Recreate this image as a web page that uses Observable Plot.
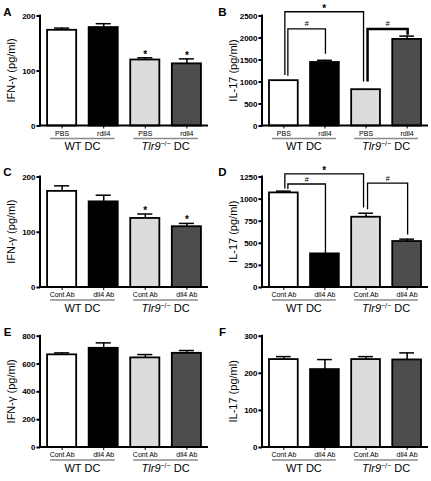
<!DOCTYPE html>
<html><head><meta charset="utf-8">
<script src="https://cdn.jsdelivr.net/npm/d3@7"></script>
<script src="https://cdn.jsdelivr.net/npm/@observablehq/plot@0.6"></script>
<style>
body{margin:0;background:#fff;}
#chart{position:relative;width:431px;height:481px;background:#fff;overflow:hidden;}
#chart > div{position:absolute;}
</style></head><body><div id="chart"></div>
<script>
// ---------- data ----------
const genotypes = ["WT", "Tlr9"];
const genotypeSup = ["", "−/−"];
const groupSuffix = " DC";
const treatmentsAB = ["PBS", "rdll4"];
const treatmentsCF = ["Cont Ab", "dll4 Ab"];

const meanA = [174, 179, 120, 113];
const errA  = [4, 7, 4, 9];
const starA = [0, 0, 1, 1];
const meanB = [1030, 1443, 825, 1968];
const errB  = [0, 50, 0, 75];
const meanC = [174, 155, 125, 110];
const errC  = [10, 12, 8, 6];
const starC = [0, 0, 1, 1];
const meanD = [1070, 380, 795, 520];
const errD  = [20, 0, 45, 27];
const meanE = [666, 713, 644, 677];
const errE  = [14, 39, 24, 20];
const meanF = [237, 210, 237, 236];
const errF  = [8, 27, 8, 19];

const ticksA = [0, 100, 200];
const ticksB = [0, 500, 1000, 1500, 2000, 2500];
const ticksC = [0, 100, 200];
const ticksD = [0, 250, 500, 750, 1000, 1250];
const ticksE = [0, 200, 400, 600, 800];
const ticksF = [0, 100, 200, 300];

const ylabelIFN = "IFN-γ (pg/ml)";
const ylabelIL = "IL-17 (pg/ml)";

// significance brackets (values in data units)
const bracketsB = [
  {from: 0, to: 2, top: 2585, fromEnd: 1150, toEnd: 1000, label: "*"},
  {from: 0, to: 1, top: 2195, fromEnd: 1130, toEnd: 1630, label: "#"},
  {from: 2, to: 3, top: 2195, fromEnd: 1000, toEnd: 2065, label: "#"}
];
const bracketsD = [
  {from: 0, to: 2, top: 1280, fromEnd: 1115, toEnd: 900, label: "*"},
  {from: 0, to: 1, top: 1165, fromEnd: 1110, toEnd: 385, label: "#"},
  {from: 2, to: 3, top: 1175, fromEnd: 880, toEnd: 595, label: "#"}
];

// ---------- styling ----------
const FONT = "'Liberation Sans', Arial, Helvetica, sans-serif";
const fills = ["#ffffff", "#000000", "#dcdcdc", "#4d4d4d"];
const thickBracket = {B: 2};

const panels = [
  {letter: "A", col: 0, row: 0, ylabel: ylabelIFN, treatments: treatmentsAB, mean: meanA, err: errA, stars: starA, ticks: ticksA, brackets: []},
  {letter: "B", col: 1, row: 0, ylabel: ylabelIL, treatments: treatmentsAB, mean: meanB, err: errB, stars: null, ticks: ticksB, brackets: bracketsB},
  {letter: "C", col: 0, row: 1, ylabel: ylabelIFN, treatments: treatmentsCF, mean: meanC, err: errC, stars: starC, ticks: ticksC, brackets: []},
  {letter: "D", col: 1, row: 1, ylabel: ylabelIL, treatments: treatmentsCF, mean: meanD, err: errD, stars: null, ticks: ticksD, brackets: bracketsD},
  {letter: "E", col: 0, row: 2, ylabel: ylabelIFN, treatments: treatmentsCF, mean: meanE, err: errE, stars: null, ticks: ticksE, brackets: []},
  {letter: "F", col: 1, row: 2, ylabel: ylabelIL, treatments: treatmentsCF, mean: meanF, err: errF, stars: null, ticks: ticksF, brackets: []}
];
const rowTop = [0, 160, 320];
const rowMargins = [[15.5, 34.5], [16.5, 33], [15.7, 33]];

function decor(p, keys) {
  return (index, scales, values, dims) => {
    const {x, y} = scales;
    const bw = x.bandwidth ? x.bandwidth() : 0;
    const cx = i => x(keys[i]) + bw / 2;
    const {width, height, marginLeft, marginRight, marginTop, marginBottom} = dims;
    const y0 = y(0);
    const ymax = y(p.ticks[p.ticks.length - 1]);
    const g = d3.create("svg:g").attr("font-family", FONT).attr("fill", "black").attr("font-weight", "normal");
    // axis lines
    g.append("line").attr("x1", marginLeft).attr("x2", marginLeft)
      .attr("y1", y0 + 1).attr("y2", ymax - 1).attr("stroke", "black").attr("stroke-width", 2);
    g.append("line").attr("x1", marginLeft - 1).attr("x2", width - marginRight)
      .attr("y1", y0).attr("y2", y0).attr("stroke", "black").attr("stroke-width", 2);
    // group underlines and labels
    genotypes.forEach((gname, gi) => {
      const i1 = gi * 2, i2 = gi * 2 + 1;
      const xa = x(keys[i1]) + 3, xb = x(keys[i2]) + bw - 3;
      g.append("line").attr("x1", xa).attr("x2", xb).attr("y1", y0 + 13).attr("y2", y0 + 13)
        .attr("stroke", "#8a8a8a").attr("stroke-width", 1.3);
      const t = g.append("text").attr("x", (xa + xb) / 2).attr("y", y0 + 24.5)
        .attr("text-anchor", "middle").attr("font-size", 11);
      if (genotypeSup[gi]) {
        t.append("tspan").attr("font-style", "italic").text(gname);
        t.append("tspan").attr("font-size", 7).attr("dy", -4).text(genotypeSup[gi]);
        t.append("tspan").attr("dy", 4).text(groupSuffix);
      } else {
        t.text(gname + groupSuffix);
      }
    });
    // y label
    g.append("text")
      .attr("transform", `translate(${marginLeft - 29},${(marginTop + height - marginBottom) / 2}) rotate(-90)`)
      .attr("text-anchor", "middle").attr("dy", "0.35em").attr("font-size", 11).text(p.ylabel);
    // panel letter
    g.append("text").attr("x", 7.5).attr("y", 16).attr("font-size", 11.5).attr("font-weight", "bold").text(p.letter);
    // brackets
    p.brackets.forEach((b, bi) => {
      const w = thickBracket[p.letter] === bi ? 2.5 : 1.3;
      const sL = b.label === "*" ? 1.5 : (b.from === 0 ? 4.5 : 2);
      const sR = b.label === "*" ? -2 : 1;
      const xL = cx(b.from) + sL, xR = cx(b.to) + sR, yt = y(b.top);
      g.append("path").attr("d", `M${xL},${y(b.fromEnd)}V${yt}H${xR}V${y(b.toEnd)}`)
        .attr("fill", "none").attr("stroke", "black").attr("stroke-width", w);
      const star = b.label === "*";
      g.append("text").attr("x", (xL + xR) / 2).attr("y", yt - (star ? 0 : 2.5))
        .attr("text-anchor", "middle").attr("font-size", star ? 10 : 7.5)
        .attr("font-weight", star ? "bold" : "normal").attr("font-style", star ? "normal" : "italic")
        .text(b.label);
    });
    return g.node();
  };
}

function makePanel(p) {
  const keys = genotypes.flatMap(g => p.treatments.map(t => g + "|" + t));
  const data = keys.map((k, i) => ({
    key: k, mean: p.mean[i], upper: p.mean[i] + p.err[i], fill: fills[i],
    star: p.stars ? p.stars[i] : 0
  }));
  const isRight = p.col === 1;
  const [mt, mb] = rowMargins[p.row];
  return Plot.plot({
    width: isRight ? 216 : 215,
    height: 160,
    marginLeft: isRight ? 47 : 40,
    marginRight: isRight ? 3 : 7,
    marginTop: mt,
    marginBottom: mb,
    style: {fontFamily: FONT, background: "white", overflow: "visible", color: "black"},
    x: {domain: keys, paddingInner: 0.3, paddingOuter: 0.17, round: false, label: null},
    y: {domain: [0, p.ticks[p.ticks.length - 1]], label: null},
    color: {type: "identity"},
    marks: [
      Plot.ruleX(data, {x: "key", y1: "mean", y2: "upper", stroke: "black", strokeWidth: 1.5}),
      Plot.tickY(data, {x: "key", y: "upper", stroke: "black", strokeWidth: 1.5, inset: 7}),
      Plot.barY(data, {x: "key", y: "mean", fill: "fill", stroke: "black", strokeWidth: 1.8}),
      Plot.text(data.filter(d => d.star), {x: "key", y: "upper", text: () => "*", lineAnchor: "bottom", fontSize: 10, fontWeight: "bold"}),
      Plot.axisY({ticks: p.ticks, tickFormat: d => String(d), tickSize: 3.5, tickPadding: 1.5, fontSize: 8, fontWeight: "bold", strokeWidth: 2, label: null}),
      Plot.axisX({tickSize: 3, tickPadding: 2, fontSize: 7, tickFormat: k => k.split("|")[1], label: null}),
      decor(p, keys)
    ]
  });
}

const root = document.getElementById("chart");
panels.forEach(p => {
  const div = document.createElement("div");
  div.style.left = (p.col === 1 ? 215 : 0) + "px";
  div.style.top = rowTop[p.row] + "px";
  div.appendChild(makePanel(p));
  root.appendChild(div);
});
</script>
</body></html>
